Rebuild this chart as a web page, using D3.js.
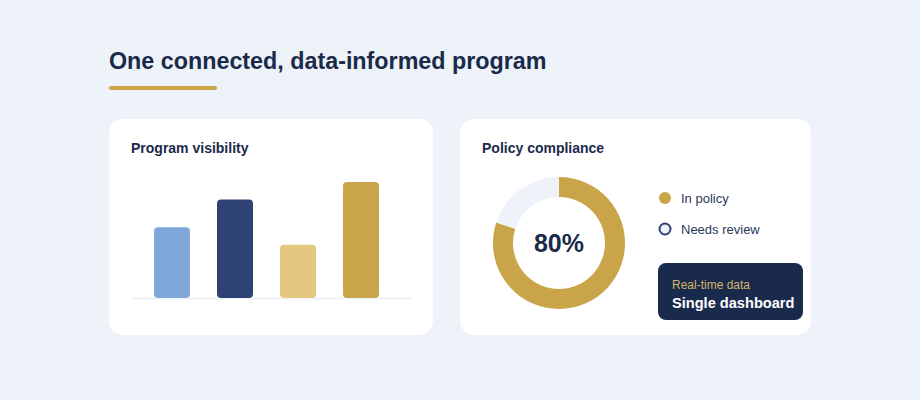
<!DOCTYPE html>
<html>
<head>
<meta charset="utf-8">
<script src="https://cdn.jsdelivr.net/npm/d3@7"></script>
<style>
  html, body { margin: 0; padding: 0; background: #eef2f9; }
  svg { display: block; font-family: "Liberation Sans", Arial, sans-serif; }
</style>
</head>
<body>
<div id="chart"></div>
<script>
// Chart data
const barCategories = ["A", "B", "C", "D"];
const barValues = [61, 85, 46, 100];
const barColors = ["#7fa7d9", "#2e4374", "#e5c77f", "#c9a449"];

const donutLabels = ["In policy", "Needs review"];
const donutValues = [80, 20];
const donutColors = ["#c9a449", "#eef2f9"];

const width = 920;
const height = 400;

const svg = d3.select("#chart")
  .append("svg")
  .attr("width", width)
  .attr("height", height)
  .attr("viewBox", [0, 0, width, height]);

svg.append("rect")
  .attr("width", width)
  .attr("height", height)
  .attr("fill", "#eef2f9");

// Heading
svg.append("text")
  .attr("x", 109)
  .attr("y", 69)
  .attr("fill", "#1a2a4a")
  .style("font-size", "23.3px")
  .style("font-weight", "bold")
  .text("One connected, data-informed program");

svg.append("rect")
  .attr("x", 109)
  .attr("y", 86)
  .attr("width", 108)
  .attr("height", 4)
  .attr("rx", 2)
  .attr("fill", "#c9a449");

// Cards
const cards = [
  { x: 109, y: 119, w: 324, h: 216, title: "Program visibility" },
  { x: 460, y: 119, w: 351, h: 216, title: "Policy compliance" }
];

cards.forEach(c => {
  svg.append("rect")
    .attr("x", c.x)
    .attr("y", c.y)
    .attr("width", c.w)
    .attr("height", c.h)
    .attr("rx", 14)
    .attr("fill", "#ffffff");
  svg.append("text")
    .attr("x", c.x + 22)
    .attr("y", c.y + 34)
    .attr("fill", "#1a2a4a")
    .style("font-size", "14px")
    .style("font-weight", "bold")
    .text(c.title);
});

// Bar chart
const barBase = 298;
const x = d3.scaleBand()
  .domain(barCategories)
  .range([140.5, 392.5])
  .paddingInner(0.4286)
  .paddingOuter(0.2143);

const y = d3.scaleLinear()
  .domain([0, 100])
  .range([barBase, 182]);

svg.append("line")
  .attr("x1", 131)
  .attr("x2", 411)
  .attr("y1", barBase + 0.5)
  .attr("y2", barBase + 0.5)
  .attr("stroke", "#eef2f9")
  .attr("stroke-width", 2);

svg.append("g")
  .selectAll("rect")
  .data(barValues)
  .join("rect")
  .attr("x", (d, i) => x(barCategories[i]))
  .attr("y", d => y(d))
  .attr("width", x.bandwidth())
  .attr("height", d => barBase - y(d))
  .attr("rx", 4)
  .attr("fill", (d, i) => barColors[i]);

// Donut
const cx = 559, cy = 243;
const pie = d3.pie().sort(null)(donutValues);
const arc = d3.arc().innerRadius(46).outerRadius(66);

svg.append("g")
  .attr("transform", `translate(${cx},${cy})`)
  .selectAll("path")
  .data(pie)
  .join("path")
  .attr("d", arc)
  .attr("fill", (d, i) => donutColors[i]);

svg.append("text")
  .attr("x", cx)
  .attr("y", cy + 9)
  .attr("text-anchor", "middle")
  .attr("fill", "#1a2a4a")
  .style("font-size", "25px")
  .style("font-weight", "bold")
  .text(donutValues[0] + "%");

// Legend
const legend = svg.append("g")
  .selectAll("g")
  .data(donutLabels)
  .join("g")
  .attr("transform", (d, i) => `translate(665,${198 + i * 31})`);

legend.append("circle")
  .attr("r", (d, i) => i === 0 ? 6 : 5.5)
  .attr("fill", (d, i) => donutColors[i])
  .attr("stroke", (d, i) => i === 0 ? "none" : "#2e4374")
  .attr("stroke-width", 2);

legend.append("text")
  .attr("x", 16)
  .attr("y", 5)
  .attr("fill", "#2a3a5a")
  .style("font-size", "13px")
  .text(d => d);

// Callout box
svg.append("rect")
  .attr("x", 658)
  .attr("y", 263)
  .attr("width", 145)
  .attr("height", 57)
  .attr("rx", 8)
  .attr("fill", "#1a2a4d");

svg.append("text")
  .attr("x", 672)
  .attr("y", 289)
  .attr("fill", "#d4b56a")
  .style("font-size", "12px")
  .text("Real-time data");

svg.append("text")
  .attr("x", 672)
  .attr("y", 308)
  .attr("fill", "#ffffff")
  .style("font-size", "14.6px")
  .style("font-weight", "bold")
  .text("Single dashboard");
</script>
</body>
</html>
